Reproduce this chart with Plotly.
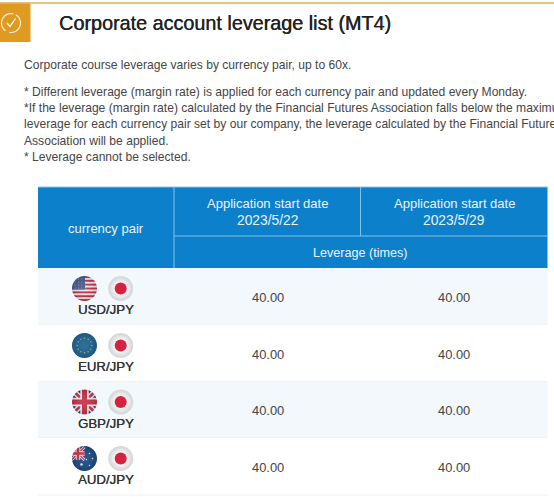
import math
import plotly.graph_objects as go

# --- Data ---
title_text = "Corporate account leverage list (MT4)"
intro_text = "Corporate course leverage varies by currency pair, up to 60x."
note_lines = [
    "* Different leverage (margin rate) is applied for each currency pair and updated every Monday.",
    "*If the leverage (margin rate) calculated by the Financial Futures Association falls below the maximu",
    "leverage for each currency pair set by our company, the leverage calculated by the Financial Future",
    "Association will be applied.",
    "* Leverage cannot be selected.",
]
pair_header = "currency pair"
date_header = "Application start date"
start_dates = ["2023/5/22", "2023/5/29"]
unit_header = "Leverage (times)"
currency_pairs = ["USD/JPY", "EUR/JPY", "GBP/JPY", "AUD/JPY"]
leverage_may22 = [40.00, 40.00, 40.00, 40.00]
leverage_may29 = [40.00, 40.00, 40.00, 40.00]

# --- Page geometry (pixels, axes are 1:1 with the screenshot) ---
W, H = 554, 497
TABLE_L, TABLE_R = 38, 547.5
COL1, COL2 = 174, 360.5
HEAD_T, HEAD_MID, HEAD_B = 187, 236, 268
ROW_EDGES = [268, 325, 381.5, 438, 495]
ROW_BG = ["#f3f8fd", "#ffffff", "#f3f8fd", "#ffffff"]
VALUE_X = [267.5, 454]
FLAG_L, FLAG_R, FLAG_R_SIZE = 84.5, 120.7, 12.5

BLUE = "#0c80cb"
HEAD_LINE = "#86c1e8"
HEAD_TEXT = "#eaf4fc"
TEXT = "#454545"
FONT = "Liberation Sans"

shapes = []
annotations = []


def rect(x0, y0, x1, y1, color):
    shapes.append(dict(type="rect", x0=x0, y0=y0, x1=x1, y1=y1,
                       fillcolor=color, line_width=0, layer="below"))


def line(x0, y0, x1, y1, color, width=1):
    shapes.append(dict(type="line", x0=x0, y0=y0, x1=x1, y1=y1,
                       line=dict(color=color, width=width), layer="below"))


def poly(points, color):
    path = "M" + "L".join(f"{x:.2f},{y:.2f}" for x, y in points) + "Z"
    shapes.append(dict(type="path", path=path, fillcolor=color, line_width=0, layer="below"))


def dot(x, y, r, color):
    shapes.append(dict(type="circle", x0=x - r, y0=y - r, x1=x + r, y1=y + r,
                       fillcolor=color, line_width=0, layer="below"))


def bar(x0, y0, x1, y1, w, color):
    # thick line as a polygon, so it stays in axis units
    dx, dy = x1 - x0, y1 - y0
    n = math.hypot(dx, dy)
    ox, oy = -dy / n * w / 2, dx / n * w / 2
    poly([(x0 + ox, y0 + oy), (x1 + ox, y1 + oy), (x1 - ox, y1 - oy), (x0 - ox, y0 - oy)], color)


def mask(cx, cy, r, color):
    # square with a round hole, hides whatever sticks out of the flag disc
    k = 0.5523 * r
    m = r + 1.5
    path = (f"M{cx-m},{cy-m}L{cx+m},{cy-m}L{cx+m},{cy+m}L{cx-m},{cy+m}Z"
            f"M{cx-r},{cy}C{cx-r},{cy-k} {cx-k},{cy-r} {cx},{cy-r}"
            f"C{cx+k},{cy-r} {cx+r},{cy-k} {cx+r},{cy}"
            f"C{cx+r},{cy+k} {cx+k},{cy+r} {cx},{cy+r}"
            f"C{cx-k},{cy+r} {cx-r},{cy+k} {cx-r},{cy}Z")
    shapes.append(dict(type="path", path=path, fillcolor=color, line_width=0,
                       fillrule="evenodd", layer="below"))


def text(x, y, s, size, color=TEXT, anchor="left", shadow=None):
    font = dict(family=FONT, size=size, color=color)
    if shadow:
        font["shadow"] = shadow
    annotations.append(dict(x=x, y=y, text=s, showarrow=False,
                            xanchor=anchor, yanchor="middle", align=anchor, font=font))


def union_jack(cx, cy, rx, ry):
    x0, x1, y0, y1 = cx - rx, cx + rx, cy - ry, cy + ry
    k = ry / 5
    rect(x0, y0, x1, y1, "#27407f")
    bar(x0, y0, x1, y1, 2.2 * k, "#f2f2f2")
    bar(x0, y1, x1, y0, 2.2 * k, "#f2f2f2")
    bar(x0, y0, x1, y1, 1.0 * k, "#c9314a")
    bar(x0, y1, x1, y0, 1.0 * k, "#c9314a")
    rect(x0, cy - 1.7 * k, x1, cy + 1.7 * k, "#f2f2f2")
    rect(cx - 1.7 * k, y0, cx + 1.7 * k, y1, "#f2f2f2")
    rect(x0, cy - 1.0 * k, x1, cy + 1.0 * k, "#c9314a")
    rect(cx - 1.0 * k, y0, cx + 1.0 * k, y1, "#c9314a")


def flag_usd(cx, cy, r):
    rect(cx - r, cy - r, cx + r, cy + r, "#f1eef0")
    h = 2 * r / 13
    for i in range(0, 13, 2):
        rect(cx - r, cy - r + i * h, cx + r, cy - r + (i + 1) * h, "#c2334d")
    rect(cx - r, cy - r, cx + 0.5, cy - r + 7 * h, "#4a5a90")
    for i in range(4):
        for j in range(4):
            dot(cx - r + 3 + j * 3.4, cy - r + 3 + i * 3, 0.45, "#d8dcec")


def flag_eur(cx, cy, r):
    rect(cx - r, cy - r, cx + r, cy + r, "#1f6491")
    for i in range(12):
        a = i * math.pi / 6
        dot(cx + 7.3 * math.cos(a), cy + 7.3 * math.sin(a), 0.75, "#9fb47e")


def flag_gbp(cx, cy, r):
    union_jack(cx, cy, r, r)


def flag_aud(cx, cy, r):
    rect(cx - r, cy - r, cx + r, cy + r, "#1c4c84")
    union_jack(cx - 6.5, cy - 5, 6.5, 6.5)
    for dx, dy, s in [(-3, 6, 1.3), (5, -5, 0.8), (8, 0, 0.8), (5, 7, 0.8), (2, 1, 0.7)]:
        dot(cx + dx, cy + dy, s, "#e6ecf4")


# --- Top bar and icon ---
line(0, 3, W, 3, "#e2ae55", 1.5)
rect(0, 3.5, 30.5, 42, "#df9a22")
ic_x, ic_y, ic_r = 11, 23, 9.5
for a0, a1 in [(-60, 100), (125, 285)]:
    pts = [(ic_x + ic_r * math.cos(math.radians(a)), ic_y + ic_r * math.sin(math.radians(a)))
           for a in range(a0, a1 + 1, 10)]
    shapes.append(dict(type="path", path="M" + "L".join(f"{x:.2f},{y:.2f}" for x, y in pts),
                       line=dict(color="#fbeed6", width=1.2), layer="below"))
shapes.append(dict(type="path", path=f"M{ic_x-4},{ic_y}L{ic_x-1},{ic_y+3.5}L{ic_x+4.5},{ic_y-4.5}",
                   line=dict(color="#ffffff", width=1.3), layer="below"))

# annotations carry about 2px of padding, so left-aligned x sits 2px before the ink
text(57, 23, title_text, 19.8, "#222222", shadow="0.35px 0 0 #222222")
text(22, 65, intro_text, 12.1)
for line_y, note in zip([92, 108, 124, 141, 157], note_lines):
    text(22, line_y, note, 12.1)

# --- Table header ---
rect(TABLE_L, HEAD_T, TABLE_R, HEAD_B, BLUE)
line(TABLE_L, HEAD_T, TABLE_R, HEAD_T, HEAD_LINE, 1)
line(COL1, HEAD_T, COL1, HEAD_B, HEAD_LINE, 1)
line(COL2, HEAD_T, COL2, HEAD_MID, HEAD_LINE, 1)
line(COL1, HEAD_MID, TABLE_R, HEAD_MID, HEAD_LINE, 1)
text((TABLE_L + COL1) / 2, 228, pair_header, 13, HEAD_TEXT, "center")
for vx, d in zip(VALUE_X, start_dates):
    text(vx, 203, date_header, 13, HEAD_TEXT, "center")
    text(vx, 220, d, 13.8, HEAD_TEXT, "center")
text((COL1 + TABLE_R) / 2, 253, unit_header, 12.6, HEAD_TEXT, "center")

# --- Table rows ---
flag_funcs = {"USD": flag_usd, "EUR": flag_eur, "GBP": flag_gbp, "AUD": flag_aud}
flag_y = []
for i, pair in enumerate(currency_pairs):
    top, bottom = ROW_EDGES[i], ROW_EDGES[i + 1]
    rect(TABLE_L, top, TABLE_R, bottom, ROW_BG[i])
    line(TABLE_L, bottom, TABLE_R, bottom, "#eceef0", 1)
    cy = top + 20.5
    flag_y.append(cy)
    flag_funcs[pair[:3]](FLAG_L, cy, FLAG_R_SIZE)
    mask(FLAG_L, cy, FLAG_R_SIZE, ROW_BG[i])
    text(106, top + 41.5, pair, 13.2, "#333333", "center", shadow="0.3px 0 0 #333333")
    mid = top + 29
    text(VALUE_X[0], mid, f"{leverage_may22[i]:.2f}", 12.9, TEXT, "center")
    text(VALUE_X[1], mid, f"{leverage_may29[i]:.2f}", 12.9, TEXT, "center")

fig = go.Figure()
# sphere shading on the foreign flags
fig.add_trace(go.Scatter(
    x=[FLAG_L] * len(flag_y), y=flag_y, mode="markers", hoverinfo="skip",
    marker=dict(size=25, color="rgba(0,0,0,0.14)", line_width=0,
                gradient=dict(type="radial", color="rgba(255,255,255,0.08)")),
))
# Japanese flag: white ball with grey rim, red centre
fig.add_trace(go.Scatter(
    x=[FLAG_R] * len(flag_y), y=flag_y, mode="markers", hoverinfo="skip",
    marker=dict(size=25, color="#d4d6d8", line_width=0,
                gradient=dict(type="radial", color="#ffffff")),
))
fig.add_trace(go.Scatter(
    x=[FLAG_R] * len(flag_y), y=flag_y, mode="markers", hoverinfo="skip",
    marker=dict(size=21, color="rgba(255,255,255,0)", line_width=0,
                gradient=dict(type="radial", color="#ffffff")),
))
fig.add_trace(go.Scatter(
    x=[FLAG_R] * len(flag_y), y=flag_y, mode="markers", hoverinfo="skip",
    marker=dict(size=12, color="#d6213f", line_width=0),
))

fig.update_layout(
    width=W, height=H, margin=dict(l=0, r=0, t=0, b=0),
    paper_bgcolor="white", plot_bgcolor="white", showlegend=False,
    shapes=shapes, annotations=annotations,
    xaxis=dict(range=[0, W], visible=False, fixedrange=True),
    yaxis=dict(range=[H, 0], visible=False, fixedrange=True),
)
fig.write_html("out.html", config={"displayModeBar": False},
               post_script="document.body.style.margin='0';document.body.style.overflow='hidden';")
